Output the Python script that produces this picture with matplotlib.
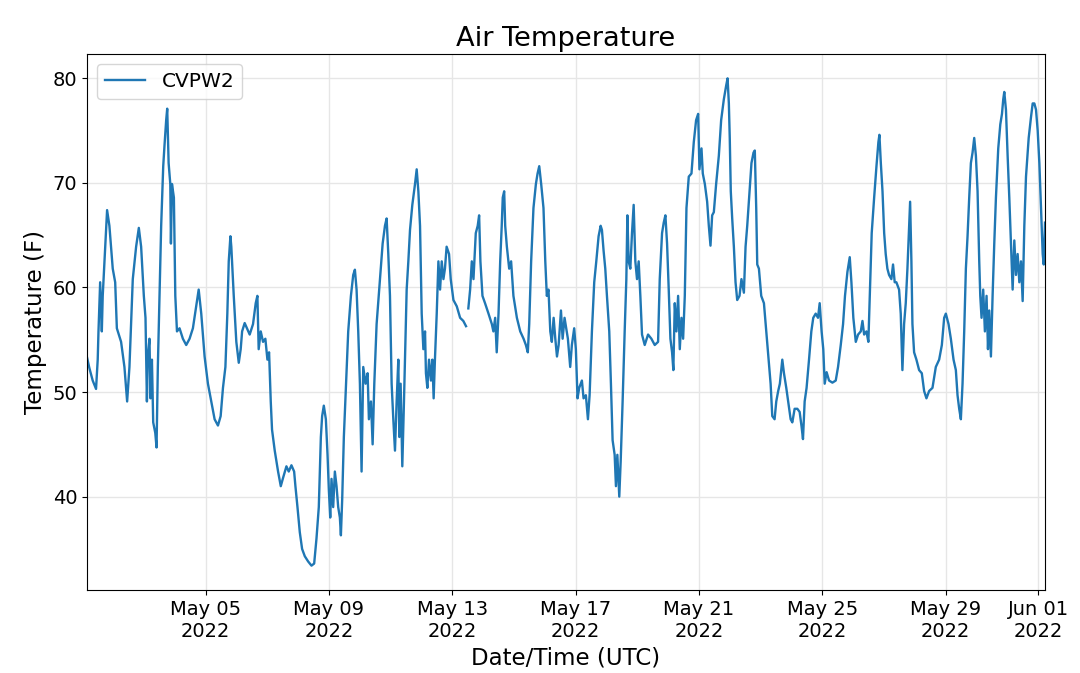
import numpy as np
import pandas as pd
import matplotlib
matplotlib.use("Agg")
import matplotlib.pyplot as plt
import matplotlib.dates as mdates

# hours since 2022-05-01 00:00 UTC, and air temperature (F)
hours = [
    3.7, 5.5, 8.1, 10.7, 12.0, 12.6, 13.9, 15.2, 15.9, 17.8, 19.3, 21.1, 23.7, 25.6, 26.9, 30.2,
    32.8, 34.9, 36.7, 39.3, 41.9, 44.0, 45.8, 47.9, 49.2, 50.3, 51.0, 52.3, 53.1, 54.2, 55.2, 56.8,
    57.8, 58.8, 60.1, 61.4, 63.0, 64.0, 65.3, 66.1, 67.2, 68.5, 69.0, 69.8, 71.3, 72.4, 73.7, 75.7,
    78.3, 80.9, 83.5, 86.1, 88.7, 90.6, 92.6, 95.2, 97.8, 100.4, 103.0, 105.6, 107.7, 109.5, 111.4,
    112.9, 114.0, 115.3, 116.0, 117.9, 119.9, 121.8, 123.3, 124.4,
    126.4, 130.3, 132.9, 135.0, 136.3, 137.3, 138.9, 140.7, 142.5, 144.1, 145.4, 146.7, 147.7, 149.8,
    152.4, 154.5, 156.3, 158.9, 160.7, 162.8, 164.9, 165.9, 167.5, 169.3, 171.1, 173.2, 175.8, 178.4,
    180.5, 182.3, 184.1, 185.7, 186.7, 188.0, 189.6, 190.9, 191.9, 193.0, 194.0, 195.3, 196.6, 197.9,
    199.2, 200.5, 201.3, 202.3, 203.6, 205.2, 207.0, 209.1, 210.9, 212.2, 213.5, 214.8, 216.1, 217.4,
    218.7, 220.5, 222.1, 223.1, 224.7, 226.0, 227.3, 229.1, 231.7, 233.8, 235.6, 236.9, 238.2, 239.5,
    240.8, 242.1, 243.4, 244.7, 246.0, 246.8, 247.8, 249.1, 250.4,
    252.5, 253.8, 255.1, 256.9, 259.0, 260.3, 261.6, 262.9, 264.2, 265.5, 266.8, 267.5, 268.6, 269.9,
    271.4, 272.5, 273.5, 274.5, 275.9, 277.2, 278.5, 279.8, 281.1, 282.3, 283.6, 285.5, 286.8, 288.9,
    291.5, 294.1, 296.6, 298.7, 299.6,
    300.5, 301.9, 303.2, 304.5, 306.3, 307.8, 308.9, 309.9, 311.5, 313.5, 316.2, 318.8, 320.0,
    321.4, 322.6, 324.0, 325.3, 326.5, 327.3, 328.4, 329.2, 330.5, 332.3, 333.8, 335.6, 338.3, 340.9,
    343.5, 345.3, 346.8, 347.9, 349.4, 351.2, 353.1, 354.4, 355.7, 357.2, 359.0, 360.4, 361.6, 362.9,
    364.3, 365.5, 366.9, 368.2, 369.5, 370.8, 372.6, 373.9, 375.4,
    378.0, 379.8, 381.1, 382.9, 384.2, 385.5, 386.8, 388.9, 390.2, 392.0, 393.6, 394.9, 396.7,
    398.5, 400.1, 401.9, 403.5, 404.5, 405.8, 407.1, 408.4, 410.2, 411.5, 412.8, 414.4, 415.4, 416.5,
    418.0, 419.1, 420.6, 422.2, 423.5, 424.3, 425.3, 426.6, 427.9, 429.2, 430.5, 431.8, 433.1, 434.4,
    435.7, 437.8, 440.4, 443.0, 445.6, 448.2, 449.5, 451.3, 452.6, 453.9, 455.2, 456.5, 457.8, 459.1,
    460.1, 461.2, 462.5, 463.8, 465.1, 466.4, 467.7, 469.0, 470.3, 472.1, 474.2, 476.0, 477.8, 479.4,
    480.4, 482.0, 483.0, 484.6, 486.4, 487.7, 489.0, 490.3, 491.6, 493.4, 495.5, 497.3, 499.4, 501.2,
    502.3,
    503.3, 504.0, 504.8, 505.9, 507.2, 508.5, 509.8, 511.6, 513.1, 515.0, 516.3, 517.6, 519.4, 520.9,
    522.5, 523.5, 524.6, 525.4, 526.7, 528.5, 530.6, 532.4, 534.0, 535.8, 537.1, 538.9, 540.2, 541.7,
    543.0, 544.9, 546.2, 548.0, 549.5, 551.4, 552.7, 554.5, 556.6, 558.4, 559.9, 561.0, 562.3, 563.8,
    565.7, 567.5, 569.0, 570.9, 572.7, 574.0, 575.5, 576.8, 577.9, 579.4, 581.3, 583.9, 586.5, 588.3,
    590.4, 592.2, 593.7, 595.6, 597.4, 598.7, 600.2, 602.1, 603.9, 606.0, 607.3, 608.6, 610.4, 611.9,
    613.0, 614.5, 616.4, 618.2, 619.7, 620.5, 621.6, 622.9, 624.2,
    625.4, 626.7, 628.0, 629.8, 631.1, 632.4, 633.7, 635.8, 637.1, 638.4, 639.7, 641.0, 642.3, 643.6,
    644.4, 645.4, 646.2, 647.5, 649.3, 651.4, 653.5, 655.3, 657.1, 659.2, 661.8, 664.4, 667.0, 669.1,
    670.9, 672.2, 674.3, 676.1, 678.2, 680.0, 681.3, 682.6, 683.9, 685.2, 686.5, 687.8, 689.1, 690.4,
    691.7, 693.0, 694.3, 695.6, 696.9, 698.2, 699.0, 700.0, 701.3, 702.6, 703.9, 705.0, 706.0, 707.3,
    708.6, 709.9, 711.2, 713.0, 714.6, 715.9, 716.9, 717.7, 719.0, 720.3, 721.6, 722.9, 724.2, 725.5,
    726.8, 728.1, 729.4, 730.7, 732.0, 733.3, 734.6, 736.7, 738.5, 739.8, 741.1, 742.4, 743.7, 745.0,
    746.3, 747.6, 748.4, 749.4,
]

temps = [
    53.3, 52.3, 51.1, 50.3, 53.1, 55.8, 60.5, 55.8, 59.2, 63.9, 67.4, 65.9, 61.8, 60.5, 56.1, 54.8,
    52.4, 49.1, 52.4, 60.8, 63.9, 65.7, 63.9, 59.2, 57.1, 49.1, 53.4, 55.1, 49.4, 53.1, 47.1, 46.1,
    44.7, 52.4, 59.2, 65.9, 71.6, 73.6, 76.0, 77.1, 71.9, 69.9, 64.2, 69.9, 68.6, 59.2, 55.8, 56.1,
    55.1, 54.5, 55.1, 56.1, 58.2, 59.8, 57.5, 53.4, 50.8, 49.1, 47.4, 46.8, 47.7, 50.4, 52.4,
    57.5, 62.5, 64.9, 63.9, 59.2, 54.8, 52.8, 54.1, 55.8,
    56.6, 55.5, 56.5, 58.5, 59.2, 54.1, 55.8, 54.8, 55.1, 53.1, 53.8, 49.1, 46.4, 44.4,
    42.4, 41.0, 41.8, 42.9, 42.4, 43.0, 42.4, 41.0, 39.0, 36.6, 35.0, 34.3, 33.8, 33.4,
    33.6, 36.0, 39.0, 45.7, 47.7, 48.7, 47.4, 44.0, 40.7, 38.0, 41.7, 39.0, 42.4, 41.0,
    39.0, 38.0, 36.3, 39.7, 45.7, 50.4, 55.8, 59.2, 61.2, 61.7, 59.8, 55.8, 50.8, 42.4,
    52.4, 50.8, 51.8, 47.4, 49.1, 45.0, 50.8, 56.5, 60.8, 64.2, 65.9, 66.6, 63.2, 59.2,
    50.8, 47.4, 44.4, 49.1, 53.1, 45.7, 50.8, 42.9, 49.1,
    59.8, 62.5, 65.5, 67.9, 69.9, 71.3, 69.2, 65.9, 57.5, 54.1, 55.8, 51.8, 50.4, 53.1,
    51.1, 53.1, 49.4, 53.1, 57.5, 62.5, 59.8, 62.5, 60.8, 61.8, 63.9, 63.2, 60.8, 58.8,
    58.2, 57.1, 56.8, 56.3, np.nan,
    58.0, 59.8, 62.5, 60.8, 65.2, 65.9, 66.9, 62.5, 59.2, 58.5, 57.5, 56.5, 55.8,
    57.1, 53.8, 57.5, 62.5, 65.9, 68.6, 69.2, 65.9, 63.9, 61.8, 62.5, 59.2, 57.1, 55.8,
    55.1, 54.5, 53.8, 56.5, 62.5, 67.6, 69.9, 70.9, 71.6, 69.9, 67.6, 62.5, 59.2, 59.8,
    55.8, 54.8, 57.1, 55.1, 53.4, 54.5, 57.8, 55.1, 57.1,
    55.1, 52.4, 54.5, 56.1, 54.1, 49.4, 50.4, 51.1, 49.4, 49.7, 47.4, 49.7, 55.8,
    60.5, 62.5, 64.9, 65.9, 65.5, 63.5, 61.8, 59.2, 55.8, 50.8, 45.4, 44.0, 41.0, 44.0,
    40.0, 43.4, 49.1, 55.8, 60.8, 66.9, 62.5, 61.8, 65.2, 67.9, 62.5, 60.8, 62.5, 59.2,
    55.5, 54.5, 55.5, 55.1, 54.5, 54.8, 60.8, 65.2, 66.2, 66.9, 64.2, 59.8, 55.1, 53.8,
    52.1, 58.5, 55.8, 59.2, 54.1, 57.1, 55.1, 59.2, 67.6, 70.6, 70.9, 73.9, 76.0, 76.6,
    71.3, 73.3, 70.9, 69.9, 68.2, 65.9, 64.0, 66.9, 67.2, 69.9, 72.6, 76.0, 78.0, 79.3,
    80.0,
    77.6, 74.3, 69.2, 66.6, 63.9, 60.5, 58.8, 59.2, 60.8, 59.5, 63.9, 65.9, 69.2, 71.9,
    72.9, 73.1, 67.6, 62.2, 61.8, 59.2, 58.5, 55.8, 53.4, 50.8, 47.7, 47.4, 49.1, 50.1,
    50.8, 53.1, 51.8, 50.4, 49.1, 47.4, 47.1, 48.4, 48.4, 48.1, 46.7, 45.5, 49.1, 50.4,
    53.1, 55.8, 57.1, 57.5, 57.1, 58.5, 55.8, 54.1, 50.8, 51.9, 51.1, 50.9, 51.1, 52.4,
    54.5, 56.5, 59.2, 61.5, 62.9, 60.5, 57.1, 54.8, 55.5, 55.8, 56.8, 55.5, 55.8, 54.8,
    59.2, 65.2, 68.6, 71.6, 73.9, 74.6, 71.9, 69.2, 65.2,
    63.2, 61.8, 61.2, 60.8, 62.2, 60.5, 60.5, 59.8, 57.5, 52.1, 56.5, 58.5, 61.8, 65.9,
    68.2, 62.5, 56.5, 53.8, 53.1, 52.1, 51.8, 50.1, 49.4, 50.1, 50.4, 52.4, 53.1, 54.5,
    57.1, 57.5, 56.5, 55.1, 53.1, 52.1, 49.7, 48.4, 47.4, 50.8, 55.8, 61.8, 64.9, 68.6,
    71.9, 72.9, 74.3, 72.6, 69.2, 62.5, 59.2, 57.1, 59.8, 55.8, 59.2, 54.1, 57.8, 53.4,
    59.2, 64.2, 68.6, 73.3, 75.6, 76.6, 78.0, 78.7, 77.0, 72.6, 68.6, 64.2, 59.8, 64.5,
    61.2, 63.2, 60.5, 62.5, 58.7, 65.9, 70.6, 74.3, 76.3, 77.6, 77.6, 77.0, 75.0, 71.9,
    67.6, 63.2, 62.2, 66.2,
]

series_label = "CVPW2"
title = "Air Temperature"
xlabel = "Date/Time (UTC)"
ylabel = "Temperature (F)"

start = pd.Timestamp("2022-05-01 00:00")
times = start + pd.to_timedelta(np.array(hours), unit="h")

fig = plt.figure(figsize=(10.8, 6.73), dpi=100)
ax = fig.add_axes([0.0806, 0.1233, 0.9676 - 0.0806, 0.9198 - 0.1233])

ax.plot(times, temps, color="#1f77b4", linewidth=1.7, label=series_label)
ax.set_xlim(times[0], times[-1])
ax.margins(y=0.05)

ax.xaxis.set_major_locator(mdates.AutoDateLocator(minticks=5, maxticks=10))
ax.xaxis.set_major_formatter(mdates.DateFormatter("%b %d\n%Y"))
ax.set_yticks([40, 50, 60, 70, 80])

ax.grid(True, color="#e6e6e6", linewidth=1.0)
ax.set_axisbelow(True)
ax.tick_params(labelsize=14)
ax.set_title(title, fontsize=19.6)
ax.set_xlabel(xlabel, fontsize=16.5)
ax.set_ylabel(ylabel, fontsize=16.5)
ax.legend(loc="upper left", fontsize=14.5)

fig.savefig("out.png", dpi=100)
